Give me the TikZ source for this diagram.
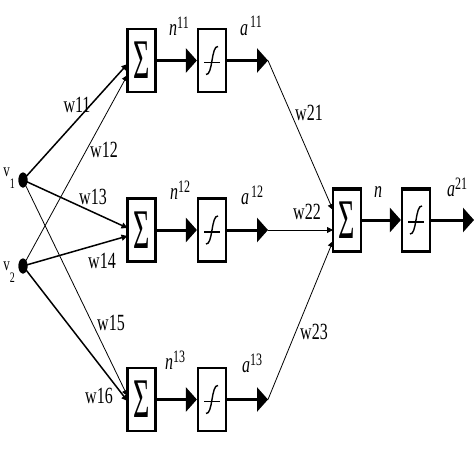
\documentclass[tikz,border=0pt]{standalone}
\usepackage{fontspec}
\setmainfont{Liberation Serif}
\usetikzlibrary{arrows.meta,shapes.geometric}
\newcommand\vst[1]{\scalebox{1}[1.45]{#1}}
\newcommand\supn[1]{\raisebox{5pt}{\fontsize{12}{12}\selectfont #1}}
\begin{document}
\begin{tikzpicture}[x=1pt,y=-1pt,
  box/.style={draw, line width=2.2pt, minimum width=28pt, minimum height=63pt, inner sep=0pt, fill=white},
  sumsym/.style={font=\fontsize{28}{28}\selectfont},
  lbl/.style={font=\fontsize{16}{16}\selectfont, inner sep=0pt},
  bigarrow/.style={line width=3pt, -{Triangle[length=11pt,width=24pt]}},
  thinarrow/.style={line width=0.8pt, -{Triangle[length=6pt,width=6pt]}},
  midarrow/.style={line width=1.5pt, -{Triangle[length=6pt,width=6pt]}},
  plainline/.style={line width=0.8pt},
  dotnode/.style={ellipse, fill, inner sep=0pt, minimum width=9pt, minimum height=15pt}
]
\useasboundingbox[fill=white] (0,0) rectangle (474,460);

% first layer boxes
\node[box] (s1) at (141.5,60.5) {\scalebox{1}[2]{\fontsize{28}{28}\selectfont Σ}};
\node[box] (f1) at (212,60.5) {};
\node[box] (s2) at (141.5,230) {\scalebox{1}[2]{\fontsize{28}{28}\selectfont Σ}};
\node[box] (f2) at (212,230) {};
\node[box] (s3) at (141.5,399.5) {\scalebox{1}[2]{\fontsize{28}{28}\selectfont Σ}};
\node[box] (f3) at (212,399.5) {};
% second layer
\node[box] (S) at (347,220) {\scalebox{1}[2]{\fontsize{28}{28}\selectfont Σ}};
\node[box] (F) at (416,220) {};
\foreach \b in {S,F}{
  \draw[line width=3.5pt] ([yshift=-2pt]\b.north west) -- ([yshift=-2pt]\b.north east);
}
% transfer function symbols
\foreach \b in {f1,f2,f3,F}{
  \draw[line width=1.1pt] ([shift={(-8pt,-2pt)}]\b.center) -- ([shift={(8pt,-2pt)}]\b.center);
  \draw[line width=1.4pt] ([shift={(-6pt,-14pt)}]\b.center) .. controls ([shift={(1pt,-15pt)}]\b.center) and ([shift={(-1pt,15pt)}]\b.center) .. ([shift={(6pt,14pt)}]\b.center);
}

% inputs
\node[dotnode] (v1) at (23,180) {};
\node[dotnode] (v2) at (23,266) {};
\node[lbl, font=\fontsize{13}{13}\selectfont] (lv1) at (9,178) {\vst{v\raisebox{-8pt}{\fontsize{10}{10}\selectfont 1}}};
\node[lbl, font=\fontsize{13}{13}\selectfont] (lv2) at (9,272) {\vst{v\raisebox{-8pt}{\fontsize{10}{10}\selectfont 2}}};

\coordinate (i11) at (127.5,64);
\coordinate (i12) at (127.5,75);
\coordinate (i13) at (127.5,228);
\coordinate (i14) at (127.5,236);
\coordinate (i15) at (127.5,396);
\coordinate (i16) at (127.5,401);
\draw[midarrow] (v1.center) -- (i11);
\draw[thinarrow] (v2.center) -- (i12);
\draw[midarrow] (v1.center) -- (i13);
\draw[midarrow] (v2.center) -- (i14);
\draw[thinarrow] (v1.center) -- (i15);
\draw[midarrow] (v2.center) -- (i16);
\node[dotnode] at (v1) {};
\node[dotnode] at (v2) {};

% thick arrows
\coordinate (a1) at (268,60.5);
\coordinate (a2) at (268,230);
\coordinate (a3) at (268,399.5);
\coordinate (out) at (474,220);
\draw[bigarrow] (s1.east) -- (f1.west);
\draw[bigarrow] (f1.east) -- (a1);
\draw[bigarrow] (s2.east) -- (f2.west);
\draw[bigarrow] (f2.east) -- (a2);
\draw[bigarrow] (s3.east) -- (f3.west);
\draw[bigarrow] (f3.east) -- (a3);
\draw[bigarrow] (S.east) -- (F.west);
\draw[bigarrow] (F.east) -- (out);

% second layer connections
\coordinate (j1) at (333,210);
\coordinate (j2) at (333,230);
\coordinate (j3) at (333,241);
\draw[thinarrow] (a1) -- (j1);
\draw[thinarrow] (a2) -- (j2);
\draw[thinarrow] (a3) -- (j3);

% weight labels
\node[lbl] (lw11) at (77,105) {\vst{w11}};
\node[lbl] (lw12) at (104,150) {\vst{w12}};
\node[lbl] (lw13) at (93,197) {\vst{w13}};
\node[lbl] (lw14) at (102,261) {\vst{w14}};
\node[lbl] (lw15) at (111,323) {\vst{w15}};
\node[lbl] (lw16) at (99,396) {\vst{w16}};
\node[lbl] (lw21) at (309,113) {\vst{w21}};
\node[lbl] (lw22) at (307,212) {\vst{w22}};
\node[lbl] (lw23) at (314,332) {\vst{w23}};

% signal labels
\node[lbl] (ln11) at (179,26) {\vst{\textit{n}\supn{11}}};
\node[lbl] (la11) at (251,26) {\vst{\textit{a}\supn{\,11}}};
\node[lbl] (ln12) at (180,190) {\vst{\textit{n}\supn{12}}};
\node[lbl] (la12) at (252,195) {\vst{\textit{a}\supn{\,12}}};
\node[lbl] (ln13) at (175,360) {\vst{\textit{n}\supn{13}}};
\node[lbl] (la13) at (252,363) {\vst{\textit{a}\supn{13}}};
\node[lbl] (ln) at (378,192) {\vst{\textit{n}}};
\node[lbl] (la21) at (457,187) {\vst{\textit{a}\supn{21}}};
\end{tikzpicture}
\end{document}
